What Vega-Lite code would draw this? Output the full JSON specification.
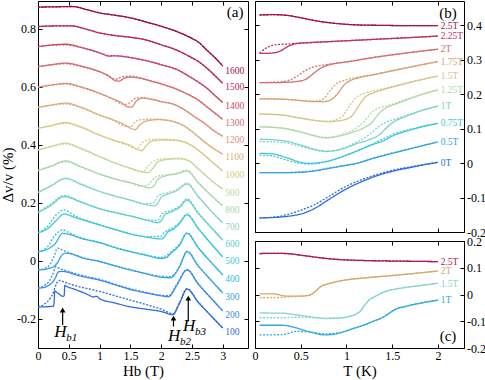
{
"$schema": "https://vega.github.io/schema/vega-lite/v6.json",
"background": "white",
"padding": {"left": 0, "right": 0, "top": 0, "bottom": 0},
"config": {
  "font": "Liberation Serif, Times New Roman, serif",
  "view": {"stroke": "#000", "strokeWidth": 1},
  "axis": {"domain": false, "grid": false, "ticks": true, "tickSize": 4, "offset": -4, "tickColor": "#000", "tickWidth": 1, "minExtent": 0,
    "labelFont": "Liberation Serif, Times New Roman, serif", "labelFontSize": 12, "labelColor": "#000", "labelPadding": 2.5,
    "titleFont": "Liberation Serif, Times New Roman, serif", "titleFontSize": 15, "titleFontWeight": "normal", "titleColor": "#000",
    "labelFlush": false, "labelOverlap": false},
  "text": {"font": "Liberation Serif, Times New Roman, serif"}
},
"datasets": {
"a": [
{"c":1600,"h":0,"s":0.875,"d":0.875},{"c":1600,"h":0.3,"s":0.876,"d":0.876},{"c":1600,"h":0.55,"s":0.877,"d":0.877},{"c":1600,"h":0.8,"s":0.866,"d":0.866},{"c":1600,"h":1,"s":0.855,"d":0.855},{"c":1600,"h":1.25,"s":0.847,"d":0.847},{"c":1600,"h":1.5,"s":0.838,"d":0.838},{"c":1600,"h":1.75,"s":0.824,"d":0.824},{"c":1600,"h":2,"s":0.809,"d":0.809},{"c":1600,"h":2.25,"s":0.791,"d":0.791},{"c":1600,"h":2.5,"s":0.767,"d":0.767},{"c":1600,"h":2.6,"s":0.755,"d":0.755},{"c":1600,"h":2.75,"s":0.725,"d":0.725},{"c":1600,"h":2.9,"s":0.695,"d":0.695},{"c":1600,"h":3,"s":0.672,"d":0.672},
{"c":1500,"h":0,"s":0.808,"d":0.808},{"c":1500,"h":0.3,"s":0.81,"d":0.81},{"c":1500,"h":0.55,"s":0.81,"d":0.81},{"c":1500,"h":0.8,"s":0.798,"d":0.798},{"c":1500,"h":1,"s":0.786,"d":0.786},{"c":1500,"h":1.25,"s":0.777,"d":0.777},{"c":1500,"h":1.5,"s":0.771,"d":0.771},{"c":1500,"h":1.75,"s":0.762,"d":0.762},{"c":1500,"h":2,"s":0.745,"d":0.745},{"c":1500,"h":2.25,"s":0.727,"d":0.727},{"c":1500,"h":2.5,"s":0.7,"d":0.7},{"c":1500,"h":2.6,"s":0.688,"d":0.688},{"c":1500,"h":2.75,"s":0.663,"d":0.663},{"c":1500,"h":2.9,"s":0.633,"d":0.633},{"c":1500,"h":3,"s":0.612,"d":0.612},
{"c":1400,"h":0,"s":0.739,"d":0.739},{"c":1400,"h":0.2,"s":0.744,"d":0.743},{"c":1400,"h":0.45,"s":0.747,"d":0.745},{"c":1400,"h":0.7,"s":0.736,"d":0.736},{"c":1400,"h":0.9,"s":0.724,"d":0.724},{"c":1400,"h":1.05,"s":0.713,"d":0.714},{"c":1400,"h":1.15,"s":0.706,"d":0.708},{"c":1400,"h":1.25,"s":0.707,"d":0.708},{"c":1400,"h":1.4,"s":0.704,"d":0.705},{"c":1400,"h":1.6,"s":0.697,"d":0.698},{"c":1400,"h":1.8,"s":0.688,"d":0.689},{"c":1400,"h":2,"s":0.676,"d":0.677},{"c":1400,"h":2.25,"s":0.66,"d":0.661},{"c":1400,"h":2.5,"s":0.63,"d":0.631},{"c":1400,"h":2.6,"s":0.617,"d":0.617},{"c":1400,"h":2.75,"s":0.594,"d":0.594},{"c":1400,"h":2.9,"s":0.565,"d":0.565},{"c":1400,"h":3,"s":0.546,"d":0.546},
{"c":1300,"h":0,"s":0.67,"d":0.67},{"c":1300,"h":0.2,"s":0.676,"d":0.675},{"c":1300,"h":0.45,"s":0.682,"d":0.68},{"c":1300,"h":0.7,"s":0.672,"d":0.67},{"c":1300,"h":0.9,"s":0.66,"d":0.659},{"c":1300,"h":1.05,"s":0.648,"d":0.648},{"c":1300,"h":1.15,"s":0.638,"d":0.636},{"c":1300,"h":1.25,"s":0.622,"d":0.626},{"c":1300,"h":1.32,"s":0.62,"d":0.631},{"c":1300,"h":1.4,"s":0.63,"d":0.636},{"c":1300,"h":1.5,"s":0.634,"d":0.637},{"c":1300,"h":1.65,"s":0.63,"d":0.632},{"c":1300,"h":1.8,"s":0.622,"d":0.623},{"c":1300,"h":2,"s":0.61,"d":0.611},{"c":1300,"h":2.25,"s":0.592,"d":0.592},{"c":1300,"h":2.5,"s":0.567,"d":0.567},{"c":1300,"h":2.6,"s":0.555,"d":0.555},{"c":1300,"h":2.75,"s":0.53,"d":0.53},{"c":1300,"h":2.9,"s":0.505,"d":0.505},{"c":1300,"h":3,"s":0.488,"d":0.488},
{"c":1200,"h":0,"s":0.599,"d":0.599},{"c":1200,"h":0.2,"s":0.606,"d":0.605},{"c":1200,"h":0.45,"s":0.612,"d":0.61},{"c":1200,"h":0.7,"s":0.6,"d":0.598},{"c":1200,"h":1,"s":0.578,"d":0.577},{"c":1200,"h":1.2,"s":0.56,"d":0.56},{"c":1200,"h":1.35,"s":0.546,"d":0.542},{"c":1200,"h":1.45,"s":0.532,"d":0.54},{"c":1200,"h":1.52,"s":0.53,"d":0.552},{"c":1200,"h":1.6,"s":0.552,"d":0.562},{"c":1200,"h":1.7,"s":0.561,"d":0.563},{"c":1200,"h":1.85,"s":0.557,"d":0.558},{"c":1200,"h":2,"s":0.549,"d":0.55},{"c":1200,"h":2.2,"s":0.54,"d":0.541},{"c":1200,"h":2.4,"s":0.518,"d":0.518},{"c":1200,"h":2.55,"s":0.496,"d":0.496},{"c":1200,"h":2.7,"s":0.475,"d":0.475},{"c":1200,"h":2.85,"s":0.45,"d":0.45},{"c":1200,"h":3,"s":0.43,"d":0.43},
{"c":1100,"h":0,"s":0.529,"d":0.529},{"c":1100,"h":0.2,"s":0.537,"d":0.536},{"c":1100,"h":0.45,"s":0.544,"d":0.541},{"c":1100,"h":0.7,"s":0.53,"d":0.528},{"c":1100,"h":1,"s":0.503,"d":0.502},{"c":1100,"h":1.2,"s":0.488,"d":0.487},{"c":1100,"h":1.4,"s":0.47,"d":0.465},{"c":1100,"h":1.5,"s":0.458,"d":0.462},{"c":1100,"h":1.58,"s":0.453,"d":0.48},{"c":1100,"h":1.65,"s":0.468,"d":0.486},{"c":1100,"h":1.75,"s":0.482,"d":0.488},{"c":1100,"h":1.95,"s":0.487,"d":0.489},{"c":1100,"h":2.2,"s":0.48,"d":0.481},{"c":1100,"h":2.35,"s":0.468,"d":0.468},{"c":1100,"h":2.5,"s":0.446,"d":0.446},{"c":1100,"h":2.65,"s":0.42,"d":0.42},{"c":1100,"h":2.8,"s":0.395,"d":0.395},{"c":1100,"h":3,"s":0.368,"d":0.368},
{"c":1000,"h":0,"s":0.457,"d":0.457},{"c":1000,"h":0.2,"s":0.466,"d":0.465},{"c":1000,"h":0.45,"s":0.477,"d":0.474},{"c":1000,"h":0.7,"s":0.462,"d":0.46},{"c":1000,"h":1,"s":0.434,"d":0.433},{"c":1000,"h":1.25,"s":0.415,"d":0.414},{"c":1000,"h":1.5,"s":0.398,"d":0.394},{"c":1000,"h":1.6,"s":0.386,"d":0.386},{"c":1000,"h":1.68,"s":0.38,"d":0.405},{"c":1000,"h":1.76,"s":0.398,"d":0.416},{"c":1000,"h":1.85,"s":0.413,"d":0.419},{"c":1000,"h":2,"s":0.417,"d":0.42},{"c":1000,"h":2.2,"s":0.416,"d":0.418},{"c":1000,"h":2.4,"s":0.408,"d":0.408},{"c":1000,"h":2.55,"s":0.39,"d":0.39},{"c":1000,"h":2.7,"s":0.365,"d":0.365},{"c":1000,"h":2.85,"s":0.337,"d":0.337},{"c":1000,"h":3,"s":0.31,"d":0.31},
{"c":900,"h":0,"s":0.383,"d":0.383},{"c":900,"h":0.2,"s":0.394,"d":0.393},{"c":900,"h":0.45,"s":0.406,"d":0.403},{"c":900,"h":0.7,"s":0.388,"d":0.386},{"c":900,"h":1,"s":0.36,"d":0.359},{"c":900,"h":1.25,"s":0.338,"d":0.337},{"c":900,"h":1.5,"s":0.32,"d":0.318},{"c":900,"h":1.7,"s":0.307,"d":0.306},{"c":900,"h":1.78,"s":0.304,"d":0.325},{"c":900,"h":1.86,"s":0.318,"d":0.342},{"c":900,"h":1.95,"s":0.342,"d":0.35},{"c":900,"h":2.1,"s":0.35,"d":0.353},{"c":900,"h":2.3,"s":0.352,"d":0.354},{"c":900,"h":2.45,"s":0.345,"d":0.346},{"c":900,"h":2.6,"s":0.318,"d":0.318},{"c":900,"h":2.75,"s":0.29,"d":0.29},{"c":900,"h":2.9,"s":0.263,"d":0.263},{"c":900,"h":3,"s":0.248,"d":0.248},
{"c":800,"h":0,"s":0.311,"d":0.311},{"c":800,"h":0.2,"s":0.326,"d":0.325},{"c":800,"h":0.45,"s":0.345,"d":0.342},{"c":800,"h":0.7,"s":0.325,"d":0.323},{"c":800,"h":1,"s":0.3,"d":0.299},{"c":800,"h":1.25,"s":0.283,"d":0.282},{"c":800,"h":1.5,"s":0.27,"d":0.268},{"c":800,"h":1.7,"s":0.258,"d":0.257},{"c":800,"h":1.82,"s":0.252,"d":0.268},{"c":800,"h":1.88,"s":0.258,"d":0.285},{"c":800,"h":1.95,"s":0.282,"d":0.292},{"c":800,"h":2.05,"s":0.292,"d":0.296},{"c":800,"h":2.25,"s":0.3,"d":0.303},{"c":800,"h":2.42,"s":0.31,"d":0.313},{"c":800,"h":2.6,"s":0.27,"d":0.271},{"c":800,"h":2.8,"s":0.228,"d":0.228},{"c":800,"h":3,"s":0.19,"d":0.19},
{"c":700,"h":0,"s":0.236,"d":0.236},{"c":700,"h":0.2,"s":0.258,"d":0.257},{"c":700,"h":0.45,"s":0.285,"d":0.283},{"c":700,"h":0.7,"s":0.265,"d":0.263},{"c":700,"h":1,"s":0.24,"d":0.239},{"c":700,"h":1.25,"s":0.224,"d":0.223},{"c":700,"h":1.5,"s":0.21,"d":0.209},{"c":700,"h":1.7,"s":0.198,"d":0.197},{"c":700,"h":1.88,"s":0.19,"d":0.2},{"c":700,"h":1.94,"s":0.197,"d":0.222},{"c":700,"h":2,"s":0.22,"d":0.23},{"c":700,"h":2.1,"s":0.23,"d":0.235},{"c":700,"h":2.25,"s":0.242,"d":0.246},{"c":700,"h":2.42,"s":0.265,"d":0.268},{"c":700,"h":2.6,"s":0.222,"d":0.223},{"c":700,"h":2.8,"s":0.175,"d":0.175},{"c":700,"h":3,"s":0.131,"d":0.131},
{"c":600,"h":0,"s":0.167,"d":0.167},{"c":600,"h":0.2,"s":0.19,"d":0.195},{"c":600,"h":0.42,"s":0.222,"d":0.226},{"c":600,"h":0.7,"s":0.203,"d":0.203},{"c":600,"h":1,"s":0.18,"d":0.18},{"c":600,"h":1.25,"s":0.167,"d":0.167},{"c":600,"h":1.5,"s":0.155,"d":0.155},{"c":600,"h":1.75,"s":0.142,"d":0.142},{"c":600,"h":1.95,"s":0.132,"d":0.14},{"c":600,"h":2,"s":0.138,"d":0.16},{"c":600,"h":2.06,"s":0.16,"d":0.168},{"c":600,"h":2.15,"s":0.168,"d":0.173},{"c":600,"h":2.3,"s":0.185,"d":0.19},{"c":600,"h":2.42,"s":0.21,"d":0.214},{"c":600,"h":2.6,"s":0.165,"d":0.166},{"c":600,"h":2.8,"s":0.118,"d":0.118},{"c":600,"h":3,"s":0.072,"d":0.072},
{"c":500,"h":0,"s":0.098,"d":0.098},{"c":500,"h":0.15,"s":0.11,"d":0.118},{"c":500,"h":0.3,"s":0.14,"d":0.16},{"c":500,"h":0.42,"s":0.162,"d":0.176},{"c":500,"h":0.6,"s":0.15,"d":0.155},{"c":500,"h":0.8,"s":0.137,"d":0.139},{"c":500,"h":1,"s":0.124,"d":0.125},{"c":500,"h":1.25,"s":0.108,"d":0.109},{"c":500,"h":1.5,"s":0.093,"d":0.094},{"c":500,"h":1.75,"s":0.083,"d":0.084},{"c":500,"h":2,"s":0.076,"d":0.085},{"c":500,"h":2.05,"s":0.082,"d":0.098},{"c":500,"h":2.1,"s":0.098,"d":0.105},{"c":500,"h":2.2,"s":0.11,"d":0.115},{"c":500,"h":2.3,"s":0.13,"d":0.133},{"c":500,"h":2.42,"s":0.159,"d":0.162},{"c":500,"h":2.6,"s":0.112,"d":0.113},{"c":500,"h":2.8,"s":0.062,"d":0.062},{"c":500,"h":3,"s":0.014,"d":0.014},
{"c":400,"h":0,"s":0.032,"d":0.032},{"c":400,"h":0.15,"s":0.04,"d":0.048},{"c":400,"h":0.28,"s":0.06,"d":0.09},{"c":400,"h":0.4,"s":0.095,"d":0.107},{"c":400,"h":0.5,"s":0.092,"d":0.098},{"c":400,"h":0.7,"s":0.078,"d":0.08},{"c":400,"h":1,"s":0.063,"d":0.064},{"c":400,"h":1.25,"s":0.046,"d":0.047},{"c":400,"h":1.5,"s":0.032,"d":0.033},{"c":400,"h":1.75,"s":0.02,"d":0.021},{"c":400,"h":2,"s":0.009,"d":0.012},{"c":400,"h":2.08,"s":0.011,"d":0.018},{"c":400,"h":2.15,"s":0.025,"d":0.03},{"c":400,"h":2.3,"s":0.055,"d":0.058},{"c":400,"h":2.42,"s":0.095,"d":0.097},{"c":400,"h":2.6,"s":0.046,"d":0.047},{"c":400,"h":2.8,"s":-0.002,"d":-0.002},{"c":400,"h":3,"s":-0.048,"d":-0.048},
{"c":300,"h":0,"s":-0.031,"d":-0.031},{"c":300,"h":0.15,"s":-0.027,"d":-0.022},{"c":300,"h":0.25,"s":-0.02,"d":0.01},{"c":300,"h":0.32,"s":-0.005,"d":0.044},{"c":300,"h":0.38,"s":0.018,"d":0.04},{"c":300,"h":0.45,"s":0.027,"d":0.033},{"c":300,"h":0.55,"s":0.024,"d":0.025},{"c":300,"h":0.7,"s":0.012,"d":0.013},{"c":300,"h":1,"s":-0.002,"d":-0.001},{"c":300,"h":1.25,"s":-0.017,"d":-0.016},{"c":300,"h":1.5,"s":-0.031,"d":-0.03},{"c":300,"h":1.75,"s":-0.044,"d":-0.043},{"c":300,"h":2,"s":-0.056,"d":-0.053},{"c":300,"h":2.15,"s":-0.058,"d":-0.054},{"c":300,"h":2.3,"s":-0.02,"d":-0.018},{"c":300,"h":2.42,"s":0.032,"d":0.034},{"c":300,"h":2.6,"s":-0.017,"d":-0.016},{"c":300,"h":2.8,"s":-0.064,"d":-0.064},{"c":300,"h":3,"s":-0.11,"d":-0.11},
{"c":200,"h":0,"s":-0.094,"d":-0.094},{"c":200,"h":0.1,"s":-0.091,"d":-0.085},{"c":200,"h":0.18,"s":-0.083,"d":-0.07},{"c":200,"h":0.24,"s":-0.072,"d":-0.045},{"c":200,"h":0.29,"s":-0.055,"d":-0.02},{"c":200,"h":0.33,"s":-0.038,"d":-0.024},{"c":200,"h":0.4,"s":-0.036,"d":-0.03},{"c":200,"h":0.5,"s":-0.04,"d":-0.036},{"c":200,"h":0.6,"s":-0.047,"d":-0.043},{"c":200,"h":0.8,"s":-0.057,"d":-0.054},{"c":200,"h":1,"s":-0.066,"d":-0.063},{"c":200,"h":1.25,"s":-0.082,"d":-0.08},{"c":200,"h":1.5,"s":-0.098,"d":-0.096},{"c":200,"h":1.75,"s":-0.11,"d":-0.108},{"c":200,"h":2,"s":-0.12,"d":-0.118},{"c":200,"h":2.12,"s":-0.123,"d":-0.12},{"c":200,"h":2.25,"s":-0.085,"d":-0.082},{"c":200,"h":2.42,"s":-0.031,"d":-0.029},{"c":200,"h":2.6,"s":-0.079,"d":-0.078},{"c":200,"h":2.8,"s":-0.126,"d":-0.126},{"c":200,"h":3,"s":-0.172,"d":-0.172},
{"c":100,"h":0,"s":-0.158,"d":-0.158},{"c":100,"h":0.1,"s":-0.158,"d":-0.15},{"c":100,"h":0.2,"s":-0.157,"d":-0.128},{"c":100,"h":0.25,"s":-0.156,"d":-0.108},{"c":100,"h":0.262,"s":-0.14,"d":-0.1},{"c":100,"h":0.272,"s":-0.103,"d":-0.094},{"c":100,"h":0.3,"s":-0.108,"d":-0.078},{"c":100,"h":0.35,"s":-0.115,"d":-0.067},{"c":100,"h":0.4,"s":-0.122,"d":-0.07},{"c":100,"h":0.425,"s":-0.12,"d":-0.072},{"c":100,"h":0.435,"s":-0.084,"d":-0.073},{"c":100,"h":0.46,"s":-0.087,"d":-0.075},{"c":100,"h":0.6,"s":-0.098,"d":-0.085},{"c":100,"h":0.8,"s":-0.115,"d":-0.095},{"c":100,"h":0.9,"s":-0.124,"d":-0.1},{"c":100,"h":0.95,"s":-0.122,"d":-0.103},{"c":100,"h":1,"s":-0.13,"d":-0.105},{"c":100,"h":1.25,"s":-0.145,"d":-0.12},{"c":100,"h":1.5,"s":-0.158,"d":-0.135},{"c":100,"h":1.75,"s":-0.166,"d":-0.15},{"c":100,"h":2,"s":-0.174,"d":-0.166},{"c":100,"h":2.19,"s":-0.185,"d":-0.182},{"c":100,"h":2.3,"s":-0.145,"d":-0.142},{"c":100,"h":2.42,"s":-0.097,"d":-0.095},{"c":100,"h":2.6,"s":-0.142,"d":-0.141},{"c":100,"h":2.8,"s":-0.187,"d":-0.187},{"c":100,"h":3,"s":-0.231,"d":-0.231}
],
"al": [
{"c":1600,"h":3.04,"v":0.655},{"c":1500,"h":3.04,"v":0.6},{"c":1400,"h":3.04,"v":0.534},{"c":1300,"h":3.04,"v":0.476},{"c":1200,"h":3.04,"v":0.417},{"c":1100,"h":3.04,"v":0.359},{"c":1000,"h":3.04,"v":0.297},{"c":900,"h":3.04,"v":0.234},{"c":800,"h":3.04,"v":0.176},{"c":700,"h":3.04,"v":0.117},{"c":600,"h":3.04,"v":0.059},{"c":500,"h":3.04,"v":0.0},{"c":400,"h":3.04,"v":-0.062},{"c":300,"h":3.04,"v":-0.124},{"c":200,"h":3.04,"v":-0.186},{"c":100,"h":3.04,"v":-0.245}
],
"arr": [
{"h":0.4,"y1":-0.221,"yt":-0.169,"hx":0.262,"hy":-0.262,"lab":"b1"},
{"h":2.2,"y1":-0.226,"yt":-0.197,"hx":2.11,"hy":-0.276,"lab":"b2"},
{"h":2.44,"y1":-0.209,"yt":-0.128,"hx":2.354,"hy":-0.241,"lab":"b3"}
],
"b": [
{"f":"2.5T","t":0.05,"s":0.429,"d":0.429},{"f":"2.5T","t":0.2,"s":0.43,"d":0.43},{"f":"2.5T","t":0.35,"s":0.428,"d":0.428},{"f":"2.5T","t":0.5,"s":0.421,"d":0.421},{"f":"2.5T","t":0.65,"s":0.413,"d":0.413},{"f":"2.5T","t":0.8,"s":0.407,"d":0.407},{"f":"2.5T","t":0.95,"s":0.403,"d":0.403},{"f":"2.5T","t":1.15,"s":0.4,"d":0.4},{"f":"2.5T","t":1.4,"s":0.399,"d":0.399},{"f":"2.5T","t":1.7,"s":0.398,"d":0.398},{"f":"2.5T","t":2,"s":0.398,"d":0.398},
{"f":"2.25T","t":0.05,"s":0.318,"d":0.318},{"f":"2.25T","t":0.12,"s":0.318,"d":0.333},{"f":"2.25T","t":0.2,"s":0.319,"d":0.342},{"f":"2.25T","t":0.28,"s":0.325,"d":0.344},{"f":"2.25T","t":0.36,"s":0.338,"d":0.345},{"f":"2.25T","t":0.45,"s":0.346,"d":0.347},{"f":"2.25T","t":0.6,"s":0.349,"d":0.349},{"f":"2.25T","t":0.9,"s":0.353,"d":0.353},{"f":"2.25T","t":1.2,"s":0.357,"d":0.357},{"f":"2.25T","t":1.5,"s":0.361,"d":0.361},{"f":"2.25T","t":1.8,"s":0.365,"d":0.365},{"f":"2.25T","t":2,"s":0.368,"d":0.368},
{"f":"2T","t":0.05,"s":0.233,"d":0.233},{"f":"2T","t":0.2,"s":0.233,"d":0.234},{"f":"2T","t":0.35,"s":0.234,"d":0.238},{"f":"2T","t":0.45,"s":0.236,"d":0.25},{"f":"2T","t":0.55,"s":0.242,"d":0.268},{"f":"2T","t":0.62,"s":0.255,"d":0.277},{"f":"2T","t":0.7,"s":0.272,"d":0.282},{"f":"2T","t":0.78,"s":0.282,"d":0.285},{"f":"2T","t":0.85,"s":0.287,"d":0.288},{"f":"2T","t":1,"s":0.293,"d":0.293},{"f":"2T","t":1.3,"s":0.306,"d":0.306},{"f":"2T","t":1.6,"s":0.317,"d":0.317},{"f":"2T","t":2,"s":0.33,"d":0.33},
{"f":"1.75T","t":0.05,"s":0.186,"d":0.186},{"f":"1.75T","t":0.3,"s":0.185,"d":0.185},{"f":"1.75T","t":0.5,"s":0.181,"d":0.181},{"f":"1.75T","t":0.65,"s":0.178,"d":0.179},{"f":"1.75T","t":0.75,"s":0.178,"d":0.186},{"f":"1.75T","t":0.82,"s":0.182,"d":0.21},{"f":"1.75T","t":0.9,"s":0.2,"d":0.232},{"f":"1.75T","t":0.98,"s":0.228,"d":0.24},{"f":"1.75T","t":1.05,"s":0.24,"d":0.245},{"f":"1.75T","t":1.15,"s":0.248,"d":0.25},{"f":"1.75T","t":1.3,"s":0.256,"d":0.257},{"f":"1.75T","t":1.5,"s":0.267,"d":0.268},{"f":"1.75T","t":1.75,"s":0.281,"d":0.281},{"f":"1.75T","t":2,"s":0.294,"d":0.294},
{"f":"1.5T","t":0.05,"s":0.142,"d":0.142},{"f":"1.5T","t":0.3,"s":0.139,"d":0.139},{"f":"1.5T","t":0.5,"s":0.13,"d":0.13},{"f":"1.5T","t":0.7,"s":0.122,"d":0.122},{"f":"1.5T","t":0.8,"s":0.12,"d":0.121},{"f":"1.5T","t":0.95,"s":0.124,"d":0.135},{"f":"1.5T","t":1.05,"s":0.134,"d":0.172},{"f":"1.5T","t":1.12,"s":0.16,"d":0.193},{"f":"1.5T","t":1.2,"s":0.19,"d":0.202},{"f":"1.5T","t":1.28,"s":0.202,"d":0.208},{"f":"1.5T","t":1.38,"s":0.211,"d":0.214},{"f":"1.5T","t":1.5,"s":0.22,"d":0.222},{"f":"1.5T","t":1.75,"s":0.237,"d":0.238},{"f":"1.5T","t":2,"s":0.252,"d":0.252},
{"f":"1.25T","t":0.05,"s":0.105,"d":0.105},{"f":"1.25T","t":0.3,"s":0.101,"d":0.101},{"f":"1.25T","t":0.5,"s":0.09,"d":0.09},{"f":"1.25T","t":0.65,"s":0.079,"d":0.079},{"f":"1.25T","t":0.78,"s":0.073,"d":0.074},{"f":"1.25T","t":0.95,"s":0.08,"d":0.083},{"f":"1.25T","t":1.1,"s":0.092,"d":0.1},{"f":"1.25T","t":1.2,"s":0.103,"d":0.122},{"f":"1.25T","t":1.28,"s":0.118,"d":0.148},{"f":"1.25T","t":1.36,"s":0.145,"d":0.16},{"f":"1.25T","t":1.45,"s":0.162,"d":0.166},{"f":"1.25T","t":1.55,"s":0.172,"d":0.175},{"f":"1.25T","t":1.75,"s":0.192,"d":0.193},{"f":"1.25T","t":2,"s":0.212,"d":0.212},
{"f":"1T","t":0.05,"s":0.069,"d":0.062},{"f":"1T","t":0.3,"s":0.065,"d":0.06},{"f":"1T","t":0.5,"s":0.052,"d":0.048},{"f":"1T","t":0.65,"s":0.04,"d":0.038},{"f":"1T","t":0.78,"s":0.034,"d":0.033},{"f":"1T","t":0.95,"s":0.04,"d":0.042},{"f":"1T","t":1.12,"s":0.057,"d":0.062},{"f":"1T","t":1.25,"s":0.068,"d":0.082},{"f":"1T","t":1.35,"s":0.08,"d":0.105},{"f":"1T","t":1.43,"s":0.1,"d":0.118},{"f":"1T","t":1.52,"s":0.12,"d":0.126},{"f":"1T","t":1.65,"s":0.135,"d":0.138},{"f":"1T","t":1.8,"s":0.15,"d":0.151},{"f":"1T","t":2,"s":0.165,"d":0.165},
{"f":"0.75T","t":0.05,"s":0.028,"d":0.023},{"f":"0.75T","t":0.2,"s":0.026,"d":0.02},{"f":"0.75T","t":0.35,"s":0.015,"d":0.008},{"f":"0.75T","t":0.5,"s":0.002,"d":-0.001},{"f":"0.75T","t":0.6,"s":-0.001,"d":-0.003},{"f":"0.75T","t":0.75,"s":0.003,"d":0.002},{"f":"0.75T","t":0.95,"s":0.018,"d":0.018},{"f":"0.75T","t":1.1,"s":0.033,"d":0.034},{"f":"0.75T","t":1.3,"s":0.055,"d":0.057},{"f":"0.75T","t":1.4,"s":0.064,"d":0.07},{"f":"0.75T","t":1.5,"s":0.078,"d":0.082},{"f":"0.75T","t":1.7,"s":0.096,"d":0.098},{"f":"0.75T","t":2,"s":0.115,"d":0.115},
{"f":"0.5T","t":0.05,"s":-0.028,"d":-0.028},{"f":"0.5T","t":0.3,"s":-0.028,"d":-0.028},{"f":"0.5T","t":0.5,"s":-0.027,"d":-0.026},{"f":"0.5T","t":0.65,"s":-0.023,"d":-0.022},{"f":"0.5T","t":0.8,"s":-0.016,"d":-0.015},{"f":"0.5T","t":0.95,"s":-0.009,"d":-0.008},{"f":"0.5T","t":1.1,"s":-0.002,"d":-0.001},{"f":"0.5T","t":1.3,"s":0.014,"d":0.015},{"f":"0.5T","t":1.5,"s":0.028,"d":0.029},{"f":"0.5T","t":1.75,"s":0.045,"d":0.045},{"f":"0.5T","t":2,"s":0.061,"d":0.061},
{"f":"0T","t":0.05,"s":-0.159,"d":-0.159},{"f":"0T","t":0.2,"s":-0.158,"d":-0.157},{"f":"0T","t":0.3,"s":-0.156,"d":-0.153},{"f":"0T","t":0.4,"s":-0.153,"d":-0.146},{"f":"0T","t":0.5,"s":-0.148,"d":-0.137},{"f":"0T","t":0.65,"s":-0.132,"d":-0.121},{"f":"0T","t":0.8,"s":-0.107,"d":-0.098},{"f":"0T","t":1,"s":-0.075,"d":-0.067},{"f":"0T","t":1.15,"s":-0.056,"d":-0.05},{"f":"0T","t":1.3,"s":-0.04,"d":-0.036},{"f":"0T","t":1.5,"s":-0.024,"d":-0.021},{"f":"0T","t":1.7,"s":-0.013,"d":-0.011},{"f":"0T","t":1.85,"s":-0.005,"d":-0.004},{"f":"0T","t":2,"s":0.002,"d":0.002}
],
"bl": [
{"f":"2.5T","t":2.03,"v":0.398},{"f":"2.25T","t":2.03,"v":0.368},{"f":"2T","t":2.03,"v":0.33},{"f":"1.75T","t":2.03,"v":0.294},{"f":"1.5T","t":2.03,"v":0.252},{"f":"1.25T","t":2.03,"v":0.212},{"f":"1T","t":2.03,"v":0.165},{"f":"0.75T","t":2.03,"v":0.115},{"f":"0.5T","t":2.03,"v":0.061},{"f":"0T","t":2.03,"v":0.001}
],
"c": [
{"g":"2.5T","t":0.05,"s":0.153,"d":0.153},{"g":"2.5T","t":0.2,"s":0.154,"d":0.154},{"g":"2.5T","t":0.35,"s":0.153,"d":0.153},{"g":"2.5T","t":0.5,"s":0.147,"d":0.147},{"g":"2.5T","t":0.65,"s":0.14,"d":0.14},{"g":"2.5T","t":0.8,"s":0.134,"d":0.134},{"g":"2.5T","t":0.95,"s":0.13,"d":0.13},{"g":"2.5T","t":1.2,"s":0.127,"d":0.127},{"g":"2.5T","t":1.5,"s":0.125,"d":0.125},{"g":"2.5T","t":1.75,"s":0.124,"d":0.124},{"g":"2.5T","t":2,"s":0.123,"d":0.123},
{"g":"2T","t":0.05,"s":0.002,"d":-0.012},{"g":"2T","t":0.2,"s":0.002,"d":-0.012},{"g":"2T","t":0.35,"s":-0.006,"d":-0.009},{"g":"2T","t":0.5,"s":-0.006,"d":-0.006},{"g":"2T","t":0.6,"s":-0.002,"d":-0.002},{"g":"2T","t":0.66,"s":0.012,"d":0.012},{"g":"2T","t":0.72,"s":0.03,"d":0.03},{"g":"2T","t":0.8,"s":0.04,"d":0.04},{"g":"2T","t":0.95,"s":0.052,"d":0.052},{"g":"2T","t":1.2,"s":0.062,"d":0.062},{"g":"2T","t":1.5,"s":0.071,"d":0.071},{"g":"2T","t":1.75,"s":0.079,"d":0.079},{"g":"2T","t":2,"s":0.088,"d":0.088},
{"g":"1.5T","t":0.05,"s":-0.069,"d":-0.087},{"g":"1.5T","t":0.3,"s":-0.07,"d":-0.087},{"g":"1.5T","t":0.45,"s":-0.076,"d":-0.085},{"g":"1.5T","t":0.6,"s":-0.083,"d":-0.086},{"g":"1.5T","t":0.76,"s":-0.089,"d":-0.09},{"g":"1.5T","t":0.9,"s":-0.088,"d":-0.089},{"g":"1.5T","t":1.05,"s":-0.08,"d":-0.08},{"g":"1.5T","t":1.15,"s":-0.062,"d":-0.062},{"g":"1.5T","t":1.2,"s":-0.04,"d":-0.04},{"g":"1.5T","t":1.25,"s":-0.02,"d":-0.02},{"g":"1.5T","t":1.32,"s":-0.006,"d":-0.006},{"g":"1.5T","t":1.4,"s":0.008,"d":0.008},{"g":"1.5T","t":1.6,"s":0.024,"d":0.024},{"g":"1.5T","t":1.8,"s":0.033,"d":0.033},{"g":"1.5T","t":2,"s":0.042,"d":0.042},
{"g":"1T","t":0.05,"s":-0.115,"d":-0.151},{"g":"1T","t":0.3,"s":-0.115,"d":-0.15},{"g":"1T","t":0.45,"s":-0.125,"d":-0.138},{"g":"1T","t":0.6,"s":-0.14,"d":-0.14},{"g":"1T","t":0.76,"s":-0.151,"d":-0.147},{"g":"1T","t":0.9,"s":-0.146,"d":-0.144},{"g":"1T","t":1.05,"s":-0.13,"d":-0.13},{"g":"1T","t":1.2,"s":-0.113,"d":-0.113},{"g":"1T","t":1.3,"s":-0.099,"d":-0.099},{"g":"1T","t":1.4,"s":-0.085,"d":-0.085},{"g":"1T","t":1.46,"s":-0.072,"d":-0.072},{"g":"1T","t":1.52,"s":-0.058,"d":-0.058},{"g":"1T","t":1.65,"s":-0.044,"d":-0.044},{"g":"1T","t":1.8,"s":-0.033,"d":-0.033},{"g":"1T","t":2,"s":-0.021,"d":-0.021}
],
"cl": [
{"g":"2.5T","t":2.03,"v":0.123},{"g":"2T","t":2.03,"v":0.088},{"g":"1.5T","t":2.03,"v":0.04},{"g":"1T","t":2.03,"v":-0.021}
]
},
"spacing": 7,
"bounds": "flush",
"resolve": {"scale": {"color": "independent", "strokeDash": "independent"}},
"hconcat": [
{
 "width": 210, "height": 347,
 "resolve": {"axis": {"x": "independent", "y": "independent"}},
 "layer": [
  {
   "data": {"name": "a"},
   "transform": [{"fold": ["s", "d"], "as": ["k", "v"]}],
   "mark": {"type": "line", "interpolate": "monotone", "strokeWidth": 1.3},
   "encoding": {
    "x": {"field": "h", "type": "quantitative", "scale": {"domain": [0, 3.41], "nice": false, "zero": false},
      "axis": {"orient": "bottom", "values": [0, 0.5, 1, 1.5, 2, 2.5, 3], "title": "Hb (T)", "titlePadding": 2, "labelExpr": "'' + datum.value"}},
    "y": {"field": "v", "type": "quantitative", "scale": {"domain": [-0.3, 0.896], "nice": false, "zero": false},
      "axis": {"orient": "left", "values": [-0.2, 0, 0.2, 0.4, 0.6, 0.8], "title": "Δv/v (%)", "titlePadding": 1, "labelExpr": "'' + datum.value"}},
    "color": {"field": "c", "type": "nominal", "legend": null,
      "scale": {"domain": [100,200,300,400,500,600,700,800,900,1000,1100,1200,1300,1400,1500,1600],
        "range": ["#2f6be0","#3a8aea","#35a3e6","#33bae0","#3cc8d8","#5fcfd0","#88d5c6","#a9d8aa","#c5d898","#d5cb86","#ddaf7c","#de9076","#d76a70","#c94865","#b62a58","#9c1048"]}},
    "strokeDash": {"field": "k", "type": "nominal", "legend": null, "scale": {"domain": ["s", "d"], "range": [[1, 0], [2, 1.5]]}}
   }
  },
  {
   "data": {"name": "al"},
   "mark": {"type": "text", "align": "left", "baseline": "middle", "fontSize": 9.5},
   "encoding": {
    "x": {"field": "h", "type": "quantitative", "axis": null},
    "y": {"field": "v", "type": "quantitative", "axis": null},
    "text": {"field": "c", "type": "nominal"},
    "color": {"field": "c", "type": "nominal", "legend": null}
   }
  },
  {
   "data": {"name": "arr"},
   "mark": {"type": "rule", "color": "#000", "strokeWidth": 1.2},
   "encoding": {
    "x": {"field": "h", "type": "quantitative", "axis": null},
    "y": {"field": "y1", "type": "quantitative", "axis": null},
    "y2": {"field": "yt"}
   }
  },
  {
   "data": {"name": "arr"},
   "mark": {"type": "point", "shape": "triangle-up", "filled": true, "size": 32, "color": "#000", "opacity": 1},
   "encoding": {
    "x": {"field": "h", "type": "quantitative", "axis": null},
    "y": {"field": "yt", "type": "quantitative", "axis": null}
   }
  },
  {
   "data": {"name": "arr"},
   "mark": {"type": "text", "text": "H", "align": "left", "baseline": "alphabetic", "fontSize": 17, "fontStyle": "italic", "color": "#000"},
   "encoding": {
    "x": {"field": "hx", "type": "quantitative", "axis": null},
    "y": {"field": "hy", "type": "quantitative", "axis": null}
   }
  },
  {
   "data": {"name": "arr"},
   "mark": {"type": "text", "align": "left", "baseline": "alphabetic", "fontSize": 11, "fontStyle": "italic", "color": "#000", "dx": 12, "dy": 4},
   "encoding": {
    "x": {"field": "hx", "type": "quantitative", "axis": null},
    "y": {"field": "hy", "type": "quantitative", "axis": null},
    "text": {"field": "lab", "type": "nominal"}
   }
  },
  {
   "data": {"values": [{"p": "(a)", "x": 3.2, "y": 0.857}]},
   "mark": {"type": "text", "align": "center", "baseline": "middle", "fontSize": 15, "color": "#000"},
   "encoding": {
    "x": {"field": "x", "type": "quantitative", "axis": {"orient": "top", "values": [0, 0.5, 1, 1.5, 2, 2.5, 3], "labels": false, "title": null}},
    "y": {"field": "y", "type": "quantitative", "axis": {"orient": "right", "values": [-0.2, 0, 0.2, 0.4, 0.6, 0.8], "labels": false, "title": null}},
    "text": {"field": "p", "type": "nominal"}
   }
  }
 ]
},
{
 "spacing": 9,
 "bounds": "flush",
 "resolve": {"scale": {"color": "independent", "strokeDash": "independent"}},
 "vconcat": [
  {
   "width": 209, "height": 231,
   "resolve": {"axis": {"x": "independent", "y": "independent"}},
   "layer": [
    {
     "data": {"name": "b"},
     "transform": [{"fold": ["s", "d"], "as": ["k", "v"]}],
     "mark": {"type": "line", "interpolate": "monotone", "strokeWidth": 1.3},
     "encoding": {
      "x": {"field": "t", "type": "quantitative", "scale": {"domain": [0, 2.285], "nice": false, "zero": false},
        "axis": {"orient": "bottom", "values": [0, 0.5, 1, 1.5, 2], "labels": false, "title": null}},
      "y": {"field": "v", "type": "quantitative", "scale": {"domain": [-0.2, 0.4696], "nice": false, "zero": false},
        "axis": {"orient": "right", "values": [-0.2, -0.1, 0, 0.1, 0.2, 0.3, 0.4], "title": null, "labelExpr": "'' + datum.value"}},
      "color": {"field": "f", "type": "nominal", "legend": null,
        "scale": {"domain": ["0T","0.5T","0.75T","1T","1.25T","1.5T","1.75T","2T","2.25T","2.5T"],
          "range": ["#2f6be0","#35a3e6","#3ec6da","#7ad3ca","#b0d8a6","#cfc88a","#d9a070","#d86c70","#c03060","#a8104c"]}},
      "strokeDash": {"field": "k", "type": "nominal", "legend": null, "scale": {"domain": ["s", "d"], "range": [[1, 0], [2, 1.5]]}}
     }
    },
    {
     "data": {"name": "bl"},
     "mark": {"type": "text", "align": "left", "baseline": "middle", "fontSize": 9.5},
     "encoding": {
      "x": {"field": "t", "type": "quantitative", "axis": null},
      "y": {"field": "v", "type": "quantitative", "axis": null},
      "text": {"field": "f", "type": "nominal"},
      "color": {"field": "f", "type": "nominal", "legend": null}
     }
    },
    {
     "data": {"values": [{"p": "(b)", "x": 2.11, "y": 0.435}]},
     "mark": {"type": "text", "align": "center", "baseline": "middle", "fontSize": 15, "color": "#000"},
     "encoding": {
      "x": {"field": "x", "type": "quantitative", "axis": {"orient": "top", "values": [0, 0.5, 1, 1.5, 2], "labels": false, "title": null}},
      "y": {"field": "y", "type": "quantitative", "axis": {"orient": "left", "values": [-0.2, -0.1, 0, 0.1, 0.2, 0.3, 0.4], "labels": false, "title": null}},
      "text": {"field": "p", "type": "nominal"}
     }
    }
   ]
  },
  {
   "width": 209, "height": 107,
   "resolve": {"axis": {"x": "independent", "y": "independent"}},
   "layer": [
    {
     "data": {"name": "c"},
     "transform": [{"fold": ["s", "d"], "as": ["k", "v"]}],
     "mark": {"type": "line", "interpolate": "monotone", "strokeWidth": 1.3},
     "encoding": {
      "x": {"field": "t", "type": "quantitative", "scale": {"domain": [0, 2.285], "nice": false, "zero": false},
        "axis": {"orient": "bottom", "values": [0, 0.5, 1, 1.5, 2], "title": "T (K)", "titlePadding": 2, "labelExpr": "'' + datum.value"}},
      "y": {"field": "v", "type": "quantitative", "scale": {"domain": [-0.2, 0.2], "nice": false, "zero": false},
        "axis": {"orient": "right", "values": [-0.2, -0.1, 0, 0.1, 0.2], "title": null, "labelExpr": "'' + datum.value"}},
      "color": {"field": "g", "type": "nominal", "legend": null,
        "scale": {"domain": ["1T","1.5T","2T","2.5T"], "range": ["#30a8e0","#8ad4cc","#d4a868","#b01850"]}},
      "strokeDash": {"field": "k", "type": "nominal", "legend": null, "scale": {"domain": ["s", "d"], "range": [[1, 0], [2, 1.5]]}}
     }
    },
    {
     "data": {"name": "cl"},
     "mark": {"type": "text", "align": "left", "baseline": "middle", "fontSize": 9.5},
     "encoding": {
      "x": {"field": "t", "type": "quantitative", "axis": null},
      "y": {"field": "v", "type": "quantitative", "axis": null},
      "text": {"field": "g", "type": "nominal"},
      "color": {"field": "g", "type": "nominal", "legend": null}
     }
    },
    {
     "data": {"values": [{"p": "(c)", "x": 2.11, "y": -0.155}]},
     "mark": {"type": "text", "align": "center", "baseline": "middle", "fontSize": 15, "color": "#000"},
     "encoding": {
      "x": {"field": "x", "type": "quantitative", "axis": {"orient": "top", "values": [0, 0.5, 1, 1.5, 2], "labels": false, "title": null}},
      "y": {"field": "y", "type": "quantitative", "axis": {"orient": "left", "values": [-0.2, -0.1, 0, 0.1, 0.2], "labels": false, "title": null}},
      "text": {"field": "p", "type": "nominal"}
     }
    }
   ]
  }
 ]
}
]
}
